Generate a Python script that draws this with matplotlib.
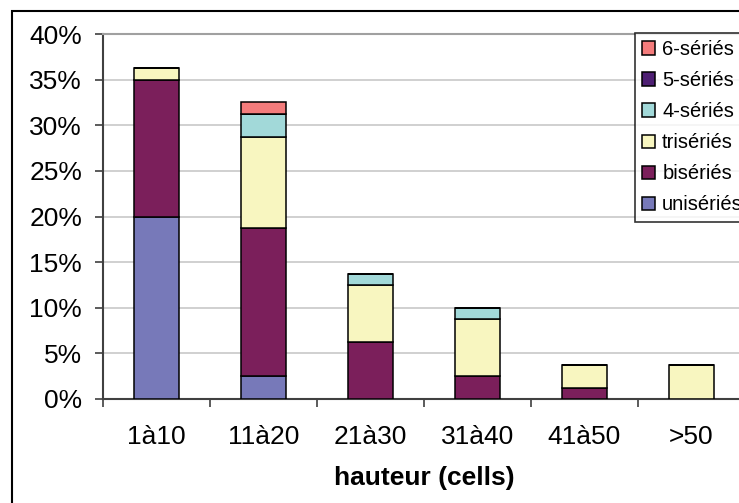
import numpy as np
import matplotlib.pyplot as plt
from matplotlib.patches import Rectangle

plt.rcParams['font.family'] = ['Liberation Sans', 'DejaVu Sans']

# Données (en %)
categories = ['1à10', '11à20', '21à30', '31à40', '41à50', '>50']
series_names = ['unisériés', 'bisériés', 'trisériés', '4-sériés', '5-sériés', '6-sériés']
unis = [20.0, 2.5, 0.0, 0.0, 0.0, 0.0]
bis = [15.0, 16.25, 6.25, 2.5, 1.25, 0.0]
tris = [1.25, 10.0, 6.25, 6.25, 2.5, 3.75]
quadri = [0.0, 2.5, 1.25, 1.25, 0.0, 0.0]
penta = [0.0, 0.0, 0.0, 0.0, 0.0, 0.0]
hexa = [0.0, 1.25, 0.0, 0.0, 0.0, 0.0]
colors = ['#7779B9', '#7B1F5B', '#F8F6C0', '#A2D9D9', '#4E1F73', '#F47C7C']

data = [unis, bis, tris, quadri, penta, hexa]

fig = plt.figure(figsize=(7.39, 5.03), dpi=100)
ax = fig.add_axes([103 / 739, 104 / 503, 642 / 739, 365 / 503])

x = np.arange(len(categories))
bottom = np.zeros(len(categories))
handles = []
for name, vals, col in zip(series_names, data, colors):
    vals = np.array(vals)
    h = ax.bar(x, vals, 0.42, bottom=bottom, color=col, edgecolor='black',
               linewidth=1.1, label=name, zorder=3)
    handles.append(h)
    bottom += vals

ax.set_xlim(-0.5, len(categories) - 0.5)
ax.set_ylim(0, 40)
ax.set_yticks(np.arange(0, 41, 5))
ax.set_yticklabels([f'{v}%' for v in range(0, 41, 5)])
ax.yaxis.grid(True, color='#c8c8c8', linewidth=1.2, zorder=0)

ax.set_xticks(x)
ax.set_xticklabels(categories)
ax.set_xticks(np.arange(-0.5, len(categories)), minor=True)
ax.tick_params(axis='x', which='major', length=0, pad=19, labelsize=19)
ax.tick_params(axis='x', which='minor', length=6, width=1.2, color='#404040')
ax.tick_params(axis='y', length=6, width=1.2, color='#404040', pad=9, labelsize=19)

ax.spines['top'].set_color('#a0a0a0')
ax.spines['right'].set_color('#a0a0a0')
ax.spines['left'].set_color('#404040')
ax.spines['bottom'].set_color('#404040')
for s in ax.spines.values():
    s.set_linewidth(1.5)

ax.set_xlabel('hauteur (cells)', fontsize=19, fontweight='bold', labelpad=12)

leg = fig.legend(handles[::-1], series_names[::-1], loc='upper left',
                 bbox_to_anchor=(635 / 739, 1 - 33 / 503), fontsize=14.5,
                 frameon=True, fancybox=False, shadow=False, borderpad=0.35,
                 handlelength=0.65, handleheight=0.65, handletextpad=0.35,
                 labelspacing=0.6, borderaxespad=0)
leg.get_frame().set_edgecolor('black')
leg.get_frame().set_linewidth(1.2)

# cadre extérieur
fig.patches.append(Rectangle((12 / 739, -0.1), 1.2, 1 - 11 / 503 + 0.1,
                             transform=fig.transFigure, fill=False,
                             edgecolor='black', linewidth=1.5))

fig.savefig('out.png', dpi=100)
